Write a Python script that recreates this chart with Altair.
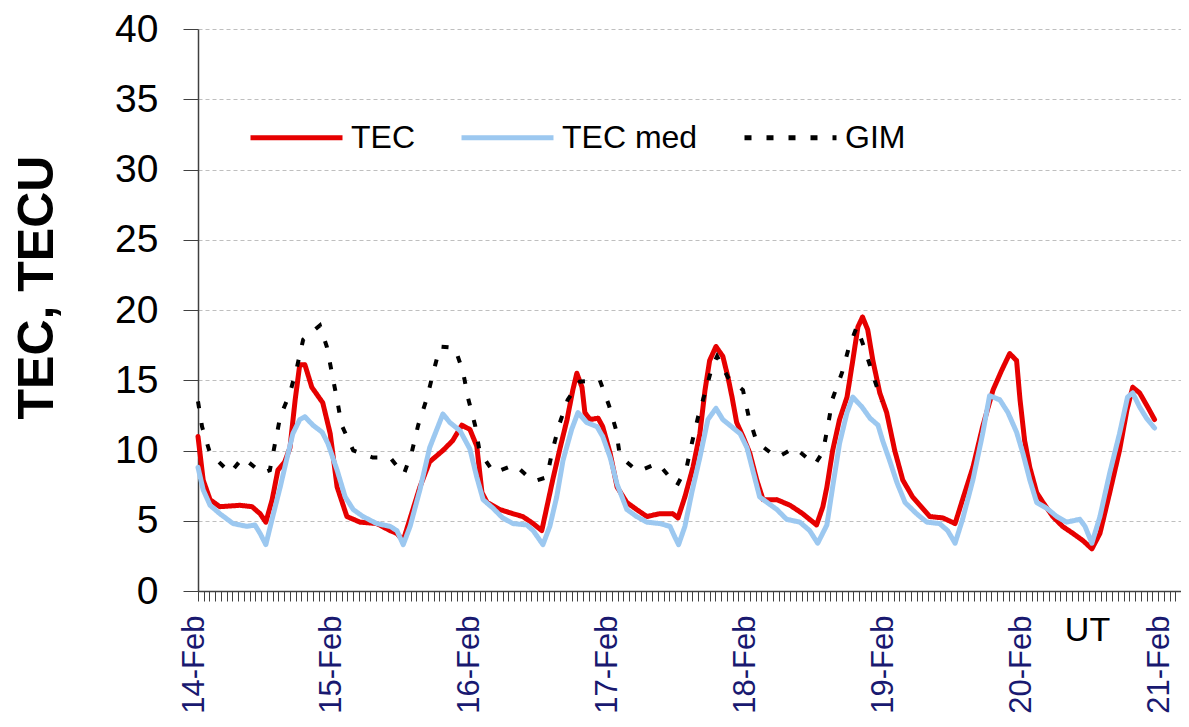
import altair as alt
import pandas as pd

# ---- data (hours since 14-Feb 00:00 UT) ----
tec_hours = [0.0, 0.9, 2.1, 3.8, 7.3, 9.4, 10.8, 11.8, 12.9, 13.9, 15.1, 16.0, 16.9, 17.7, 18.6, 19.8,
             21.7, 23.0, 24.2, 25.9, 28.2, 31.1, 33.4, 34.6, 35.7, 38.6, 40.3, 42.6, 44.3, 45.9, 47.3,
             48.5, 49.4, 50.3, 52.5, 54.8, 56.5, 58.3, 59.8, 60.7, 61.7, 63.0, 64.2, 65.2, 65.9, 66.8,
             67.3, 68.2, 69.6, 70.4, 71.7, 72.9, 74.6, 76.3, 78.1, 80.3, 82.6, 83.5, 84.7, 86.1, 87.3,
             88.2, 89.0, 90.1, 91.3, 92.2, 92.9, 93.7, 94.8, 96.0, 97.2, 98.3, 100.7, 103.0, 105.2,
             107.6, 108.7, 109.4, 110.4, 111.6, 112.9, 113.9, 114.8, 115.6, 116.5, 117.4, 118.6, 119.8,
             121.2, 122.6, 124.3, 127.3, 129.6, 131.7, 133.0, 134.8, 136.5, 138.3, 139.8, 141.2, 142.4,
             143.0, 143.8, 144.7, 145.9, 147.0, 148.7, 150.4, 152.2, 153.9, 155.5, 156.9, 158.6, 160.3,
             161.6, 162.6, 163.8, 165.2, 166.4]
tec_values = [11.0, 7.9, 6.5, 6.0, 6.1, 6.0, 5.5, 4.9, 6.5, 8.6, 9.2, 10.2, 13.6, 16.1, 16.1, 14.5,
              13.4, 11.2, 7.4, 5.3, 4.9, 4.8, 4.3, 4.1, 3.6, 7.4, 9.2, 10.0, 10.7, 11.8, 11.5,
              10.3, 7.0, 6.3, 5.8, 5.5, 5.3, 4.8, 4.3, 6.0, 7.9, 10.2, 12.2, 14.3, 15.5, 14.5,
              12.7, 12.2, 12.3, 11.7, 9.8, 7.4, 6.3, 5.8, 5.3, 5.5, 5.5, 5.2, 6.7, 8.8, 11.2,
              14.3, 16.4, 17.4, 16.7, 15.2, 13.8, 12.0, 11.0, 9.8, 7.9, 6.5, 6.5, 6.1, 5.5,
              4.7, 6.0, 7.4, 10.0, 12.2, 13.8, 16.4, 18.8, 19.5, 18.6, 16.4, 14.1, 12.7,
              10.0, 7.9, 6.7, 5.3, 5.2, 4.8, 6.5, 8.8, 11.7, 14.3, 15.7, 16.9, 16.4,
              13.6, 10.7, 8.8, 7.0, 6.3, 5.3, 4.6, 4.1, 3.6, 3.0, 4.1, 7.0, 10.0,
              12.9, 14.5, 14.1, 13.1, 12.2]

med_hours = [0.0, 0.9, 2.1, 3.8, 6.1, 8.5, 9.9, 10.8, 11.8, 13.0, 14.3, 15.5, 16.5, 17.7, 18.6, 20.0,
             21.6, 22.6, 24.2, 25.6, 27.0, 28.7, 31.1, 33.4, 34.6, 35.7, 36.9, 38.6, 40.3, 42.6, 43.8,
             45.6, 47.3, 48.5, 49.6, 51.3, 53.0, 54.8, 57.2, 58.3, 60.0, 61.2, 62.4, 63.5, 65.0, 66.1,
             67.6, 69.4, 70.4, 71.7, 72.9, 74.6, 76.3, 78.1, 80.3, 82.1, 83.0, 83.6, 84.7, 85.9, 87.3,
             88.7, 90.1, 91.3, 92.5, 94.3, 95.5, 96.5, 97.7, 99.0, 100.7, 102.4, 104.7, 106.4, 107.8,
             109.4, 110.4, 111.6, 112.9, 113.9, 115.5, 116.9, 118.3, 119.1, 120.3, 121.6, 123.0, 125.0,
             126.8, 129.0, 130.4, 131.7, 133.0, 134.8, 136.5, 137.7, 139.5, 140.9, 142.4, 143.5, 144.7,
             145.9, 147.6, 149.4, 151.1, 153.4, 154.3, 155.5, 156.9, 158.6, 160.3, 161.7, 162.6, 163.8,
             165.0, 166.4]
med_values = [8.8, 7.2, 6.1, 5.5, 4.8, 4.6, 4.7, 4.1, 3.3, 5.3, 7.4, 9.5, 11.2, 12.2, 12.4, 11.8,
              11.3, 10.5, 8.6, 6.7, 5.8, 5.3, 4.8, 4.6, 4.3, 3.3, 4.6, 7.2, 10.2, 12.6, 12.0,
              11.4, 10.1, 8.1, 6.5, 5.9, 5.2, 4.8, 4.7, 4.3, 3.3, 4.6, 6.7, 9.3, 11.5, 12.7,
              12.0, 11.7, 11.0, 9.5, 7.6, 5.8, 5.3, 4.9, 4.8, 4.6, 3.8, 3.3, 4.6, 7.0, 9.5,
              12.2, 13.0, 12.2, 11.8, 11.2, 10.2, 8.6, 6.7, 6.3, 5.8, 5.1, 4.9, 4.3, 3.4,
              4.7, 7.4, 10.5, 12.7, 13.8, 13.1, 12.3, 11.8, 10.7, 9.3, 7.7, 6.3, 5.5,
              4.9, 4.8, 4.3, 3.4, 5.1, 7.9, 11.2, 13.9, 13.6, 12.7, 11.3, 9.8, 7.9,
              6.3, 5.9, 5.3, 4.9, 5.1, 4.6, 3.4, 5.3, 8.4, 11.2, 13.8, 14.1, 13.1,
              12.3, 11.6]

gim_hours = [0.0, 0.7, 2.1, 5.6, 7.8, 11.1, 12.5, 13.4, 14.3, 16.0, 17.2, 18.3, 21.2, 22.4, 23.3, 24.2,
             25.0, 27.0, 30.4, 33.4, 35.8, 37.2, 38.3, 39.8, 40.9, 42.1, 44.7, 46.1, 47.0, 48.2, 49.0,
             51.5, 55.1, 58.3, 60.7, 61.6, 62.8, 64.3, 66.4, 69.9, 71.5, 72.7, 73.4, 76.5, 80.0, 83.3,
             85.0, 85.9, 87.0, 88.2, 89.4, 90.3, 92.2, 94.8, 95.8, 97.2, 100.7, 103.8, 107.3, 108.7,
             109.6, 110.4, 112.0, 113.2, 114.6, 116.0, 117.4, 118.9]
gim_values = [13.5, 11.7, 9.8, 8.4, 9.5, 8.4, 8.6, 10.5, 12.4, 14.1, 15.9, 17.9, 18.9, 17.4, 15.5, 13.6,
              11.8, 10.0, 9.5, 9.5, 8.3, 9.9, 11.8, 13.7, 15.5, 17.4, 17.3, 15.6, 13.7, 11.8, 9.9,
              8.4, 9.0, 7.8, 8.1, 9.9, 11.8, 13.6, 14.9, 15.0, 13.2, 11.5, 9.6, 8.5, 9.1, 7.5,
              8.8, 10.5, 12.4, 14.1, 15.9, 16.7, 15.2, 14.3, 12.4, 10.6, 9.5, 10.2, 9.0, 9.9,
              11.8, 13.7, 15.5, 17.3, 18.8, 17.2, 15.4, 13.5]

day_labels = ["14-Feb", "15-Feb", "16-Feb", "17-Feb", "18-Feb", "19-Feb", "20-Feb", "21-Feb"]
x_max_hours = 171          # axis runs to 21-Feb 03:00 UT
hour_ticks = list(range(0, x_max_hours + 1))
y_ticks = [0, 5, 10, 15, 20, 25, 30, 35, 40]

series_names = ["TEC", "TEC med", "GIM"]
series_colors = ["#E60000", "#9CC8F0", "#000000"]
series_dashes = [[1, 0], [1, 0], [7, 15]]

FONT = "Liberation Sans"


def frame(name, hours, values):
    return pd.DataFrame({"hours": hours, "value": values, "series": name})


df = pd.concat([
    frame("TEC", tec_hours, tec_values),
    frame("TEC med", med_hours, med_values),
    frame("GIM", gim_hours, gim_values),
], ignore_index=True)

label_array = "[" + ",".join("'%s'" % d for d in day_labels) + "]"

x_enc = alt.X(
    "hours:Q",
    title="UT",
    scale=alt.Scale(domain=[0, x_max_hours], nice=False, zero=False),
    axis=alt.Axis(
        values=hour_ticks,
        labelExpr="datum.value % 24 == 0 ? " + label_array + "[floor(datum.value / 24)] : ''",
        labelAngle=-90,
        labelFont=FONT,
        labelFontSize=31,
        labelColor="#191970",
        labelPadding=14,
        labelOffset=-4,
        labelOverlap=False,
        labelFlush=False,
        labelBound=False,
        tickSize=10,
        tickColor="#404040",
        tickWidth=1,
        domainColor="#404040",
        domainWidth=1.5,
        grid=False,
        titleFont=FONT,
        titleFontSize=34,
        titleFontWeight="normal",
        titleColor="#000000",
        titleAngle=0,
        titleAlign="center",
        titleBaseline="alphabetic",
        titleX=889,
        titleY=49,
    ),
)

y_enc = alt.Y(
    "value:Q",
    title="TEC, TECU",
    scale=alt.Scale(domain=[0, 40], nice=False),
    axis=alt.Axis(
        values=y_ticks,
        labelFont=FONT,
        labelFontSize=39,
        labelColor="#000000",
        labelPadding=25,
        tickSize=15,
        tickColor="#404040",
        domainColor="#404040",
        domainWidth=1.5,
        grid=True,
        gridColor="#BFBFBF",
        gridDash=[4, 3],
        gridWidth=1,
        titleFont=FONT,
        titleFontSize=50,
        titleFontWeight="bold",
        titleColor="#000000",
        titleAngle=270,
        titleAlign="center",
        titleBaseline="middle",
        titleX=-161,
        titleY=258,
    ),
)

legend = alt.Legend(
    orient="none",
    legendX=50,
    legendY=60,
    direction="horizontal",
    title=None,
    symbolType="stroke",
    symbolSize=8464,
    symbolStrokeWidth=5,
    labelFont=FONT,
    labelFontSize=32,
    labelColor="#000000",
    labelOffset=6,
    columnPadding=36,
    padding=0,
)

color_enc = alt.Color("series:N", scale=alt.Scale(domain=series_names, range=series_colors), legend=legend)
dash_enc = alt.StrokeDash("series:N", scale=alt.Scale(domain=series_names, range=series_dashes), legend=legend)

base = alt.Chart(df).encode(x=x_enc, y=y_enc, color=color_enc, strokeDash=dash_enc)

tec_line = base.transform_filter(alt.datum.series == "TEC").mark_line(
    strokeWidth=5, strokeCap="round", strokeJoin="round")
med_line = base.transform_filter(alt.datum.series == "TEC med").mark_line(
    strokeWidth=5, strokeCap="round", strokeJoin="round")
gim_line = base.transform_filter(alt.datum.series == "GIM").mark_line(
    strokeWidth=4, strokeCap="butt")

chart = alt.layer(tec_line, med_line, gim_line).properties(
    width=983,
    height=562,
    autosize=alt.AutoSizeParams(type="none"),
    padding={"left": 190, "top": 21, "right": 0, "bottom": 128},
    background="white",
).configure_view(strokeWidth=0)

chart.save("out.html", embed_options={"renderer": "svg", "actions": False})
